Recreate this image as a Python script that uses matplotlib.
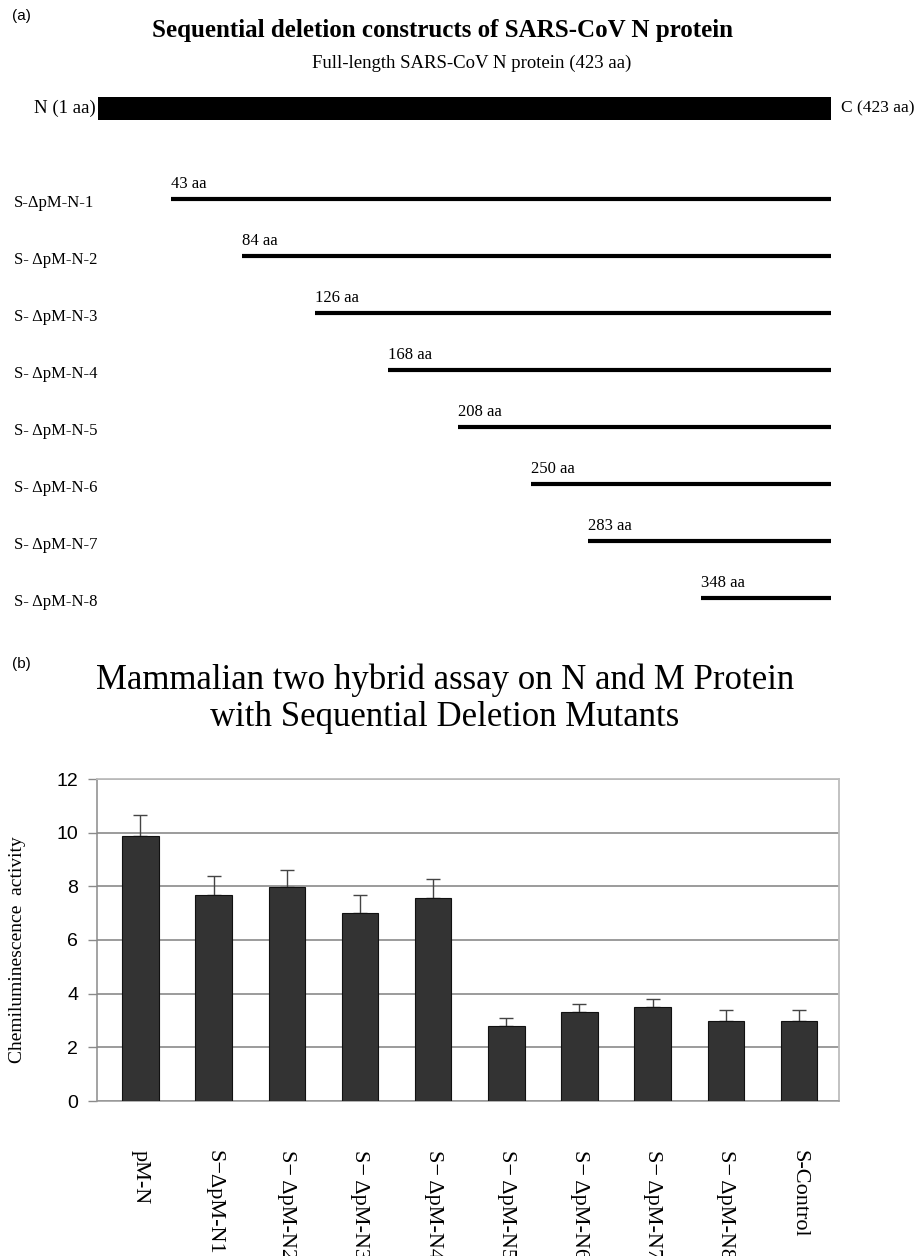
import numpy as np
import matplotlib.pyplot as plt

# panel (a): deletion constructs (start residue, all end at 423)
full_len = 423
construct_names = ["S-ΔpM-N-1", "S- ΔpM-N-2", "S- ΔpM-N-3", "S- ΔpM-N-4",
                   "S- ΔpM-N-5", "S- ΔpM-N-6", "S- ΔpM-N-7", "S- ΔpM-N-8"]
construct_start = [43, 84, 126, 168, 208, 250, 283, 348]

# panel (b): two hybrid assay
bar_labels = ["pM-N", "S−ΔpM-N1", "S− ΔpM-N2", "S− ΔpM-N3", "S− ΔpM-N4",
              "S− ΔpM-N5", "S− ΔpM-N6", "S− ΔpM-N7", "S− ΔpM-N8", "S-Control"]
activity = [9.87, 7.68, 7.96, 6.99, 7.58, 2.80, 3.32, 3.49, 2.98, 2.98]
activity_err = [0.80, 0.70, 0.65, 0.70, 0.68, 0.29, 0.28, 0.30, 0.40, 0.40]

W, H = 914, 1256
SERIF = "Liberation Serif"
SANS = "Liberation Sans"

fig = plt.figure(figsize=(W / 100, H / 100), dpi=100)


def fx(x):
    return x / W


def fy(y):
    return 1 - y / H


# ---------------- panel (a) ----------------
top_h = 630
axa = fig.add_axes([0, fy(top_h), 1, top_h / H])
axa.axis("off")
px_per_aa = (831 - 98) / (full_len - 1)
axa.set_xlim(1 - 98 / px_per_aa, full_len + (W - 831) / px_per_aa)
row_px = 57.0
axa.set_ylim((top_h - 142.3) / row_px, -142.3 / row_px)

axa.barh([-0.6], [full_len - 1], left=1, height=0.40, color="black")
rows = np.arange(1, len(construct_start) + 1)
for r, s, name in zip(rows, construct_start, construct_names):
    axa.plot([s, full_len], [r, r], color="black", lw=3.0, solid_capstyle="butt")
    axa.text(s, r - 0.2, f"{s} aa", family=SERIF, fontsize=12, ha="left", va="baseline")
    fig.text(fx(14), fy(142.3 + row_px * r + 4), name, family=SERIF, fontsize=12,
             ha="left", va="center")

fig.text(fx(12), fy(16), "(a)", family=SANS, fontsize=11, ha="left", va="center")
fig.text(fx(442), fy(31), "Sequential deletion constructs of SARS-CoV N protein",
         family=SERIF, fontsize=18, fontweight="bold", ha="center", va="center")
fig.text(fx(472), fy(63), "Full-length SARS-CoV N protein (423 aa)",
         family=SERIF, fontsize=13.5, ha="center", va="center")
fig.text(fx(96), fy(108), "N (1 aa)", family=SERIF, fontsize=13.5, ha="right", va="center")
fig.text(fx(841), fy(108), "C (423 aa)", family=SERIF, fontsize=12.5, ha="left", va="center")

# ---------------- panel (b) ----------------
fig.text(fx(12), fy(664), "(b)", family=SANS, fontsize=11, ha="left", va="center")
fig.text(fx(445), fy(699),
         "Mammalian two hybrid assay on N and M Protein\nwith Sequential Deletion Mutants",
         family=SERIF, fontsize=25, ha="center", va="center", linespacing=1.15)

axb = fig.add_axes([fx(97), fy(1101), (839 - 97) / W, (1101 - 779) / H])
x = np.arange(len(bar_labels))
axb.bar(x, activity, width=0.5, color="#333333", edgecolor="#111111", lw=0.8, zorder=3)
axb.errorbar(x, activity, yerr=[np.zeros(len(x)), activity_err], fmt="none",
             ecolor="#444444", elinewidth=1.0, capsize=4.7, capthick=1.0, zorder=2)

axb.set_ylim(0, 12)
axb.set_xlim(-0.594, 9.547)
axb.set_yticks(np.arange(0, 13, 2))
axb.yaxis.grid(True, color="#808080", lw=1.1)
axb.set_axisbelow(True)
for side in ["top", "right"]:
    axb.spines[side].set_color("#bdbdbd")
    axb.spines[side].set_linewidth(1.3)
axb.spines["left"].set_color("#8a8a8a")
axb.spines["bottom"].set_color("#9a9a9a")
axb.spines["left"].set_linewidth(1.1)
axb.spines["bottom"].set_linewidth(1.1)
axb.tick_params(axis="y", direction="out", length=6.5, width=1.0, color="#8a8a8a",
                pad=7, labelsize=14)
for t in axb.get_yticklabels():
    t.set_family(SANS)
axb.set_xticks(x)
axb.set_xticklabels(bar_labels, rotation=270, family=SERIF, fontsize=16, va="top", ha="center")
axb.tick_params(axis="x", length=0, pad=35)

fig.text(fx(18), fy(950), "Chemiluminescence  activity", family=SERIF, fontsize=14,
         rotation=90, ha="center", va="center")

fig.savefig("out.png", dpi=100)
